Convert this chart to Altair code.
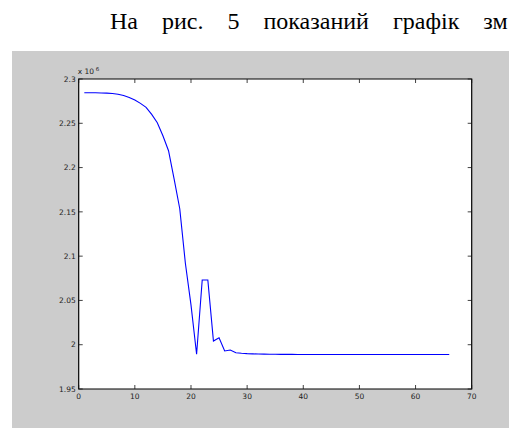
import altair as alt
import pandas as pd

# ---- data (values in units of 10^6) ----
x_vals = list(range(1, 67))
y_vals = [
    2.2845, 2.2845, 2.2844, 2.2842, 2.2840, 2.2836, 2.2828, 2.2813, 2.2792, 2.2763,
    2.2725, 2.2680, 2.2600, 2.2507, 2.2360, 2.2190, 2.1870, 2.1535, 2.0920, 2.0450,
    1.9892, 2.0730, 2.0730, 2.0042, 2.0079, 1.9929, 1.9940, 1.9910, 1.9903, 1.9899,
    1.9897, 1.9895, 1.9894, 1.9893, 1.9892, 1.9891, 1.9891, 1.9891, 1.9890, 1.9890,
    1.9890, 1.9890, 1.9890, 1.9890, 1.9890, 1.9890, 1.9890, 1.9890, 1.9890, 1.9890,
    1.9890, 1.9890, 1.9890, 1.9890, 1.9890, 1.9890, 1.9890, 1.9890, 1.9890, 1.9890,
    1.9890, 1.9890, 1.9890, 1.9890, 1.9890, 1.9890,
]
x_ticks = [0, 10, 20, 30, 40, 50, 60, 70]
y_ticks = [1.95, 2.0, 2.05, 2.1, 2.15, 2.2, 2.25, 2.3]
caption = "На рис. 5 показаний графік зм"

df = pd.DataFrame({"x": x_vals, "y": y_vals})
xt = pd.DataFrame({"v": x_ticks})
yt = pd.DataFrame({"v": y_ticks})
one = pd.DataFrame({"k": [0]})

W, H = 393, 310
PL, PT = 70.7, 71
xs = alt.Scale(domain=[0, 70], nice=False, zero=False)
ys = alt.Scale(domain=[1.95, 2.3], nice=False, zero=False)
LBL = dict(font="DejaVu Sans", fontSize=7.5, color="#222222")

# white areas outside the grey figure panel (background is grey)
top_strip = alt.Chart(one).mark_rect(color="white").encode(
    x=alt.value(-PL), x2=alt.value(W + 60), y=alt.value(-PT), y2=alt.value(-28)
)
left_strip = alt.Chart(one).mark_rect(color="white").encode(
    x=alt.value(-PL), x2=alt.value(-66.7), y=alt.value(-28), y2=alt.value(H + 60)
)
white = alt.Chart(one).mark_rect(fill="white", stroke="black", strokeWidth=1.2).encode(
    x=alt.value(0), x2=alt.value(W), y=alt.value(0), y2=alt.value(H)
)

line = alt.Chart(df).mark_line(color="#0000ff", strokeWidth=1.1).encode(
    x=alt.X("x:Q", scale=xs, axis=None),
    y=alt.Y("y:Q", scale=ys, axis=None),
)

tick_style = dict(color="#111111", strokeWidth=0.8)
lt = alt.Chart(yt).mark_rule(**tick_style).encode(
    y=alt.Y("v:Q", scale=ys, axis=None), x=alt.value(0), x2=alt.value(4))
rt = alt.Chart(yt).mark_rule(**tick_style).encode(
    y=alt.Y("v:Q", scale=ys, axis=None), x=alt.value(W - 4), x2=alt.value(W))
bt = alt.Chart(xt).mark_rule(**tick_style).encode(
    x=alt.X("v:Q", scale=xs, axis=None), y=alt.value(H - 4), y2=alt.value(H))
tt = alt.Chart(xt).mark_rule(**tick_style).encode(
    x=alt.X("v:Q", scale=xs, axis=None), y=alt.value(0), y2=alt.value(4))

# tick labels
ylab = alt.Chart(yt).mark_text(align="right", baseline="alphabetic", dy=2.7, **LBL).encode(
    y=alt.Y("v:Q", scale=ys, axis=None), x=alt.value(-3), text=alt.Text("v:Q", format="~g"))
xlab = alt.Chart(xt).mark_text(align="center", baseline="alphabetic", **LBL).encode(
    x=alt.X("v:Q", scale=xs, axis=None), y=alt.value(H + 10), text=alt.Text("v:Q", format="d"))

exp_base = alt.Chart(one).mark_text(
    text="x 10", align="left", baseline="alphabetic", **LBL
).encode(x=alt.value(-1), y=alt.value(-5))
exp_sup = alt.Chart(one).mark_text(
    text="6", font="DejaVu Sans", fontSize=5.5, color="#222222", align="left", baseline="alphabetic"
).encode(x=alt.value(17), y=alt.value(-8.5))

cap = alt.Chart(one).mark_text(
    text=caption.replace(" ", " " + "\u00a0" * 3), font="Liberation Serif", fontSize=24, color="black",
    align="left", baseline="alphabetic"
).encode(x=alt.value(31.3), y=alt.value(-50))

chart = alt.layer(top_strip, left_strip, white, line, lt, rt, bt, tt, ylab, xlab,
                  exp_base, exp_sup, cap).properties(
    width=W, height=H,
    autosize=alt.AutoSizeParams(type="none"),
    padding={"left": PL, "top": PT, "right": 37.3, "bottom": 39},
).configure(background="#cccccc").configure_view(stroke=None)

chart.save("out.html", embed_options={"renderer": "svg", "actions": False})
